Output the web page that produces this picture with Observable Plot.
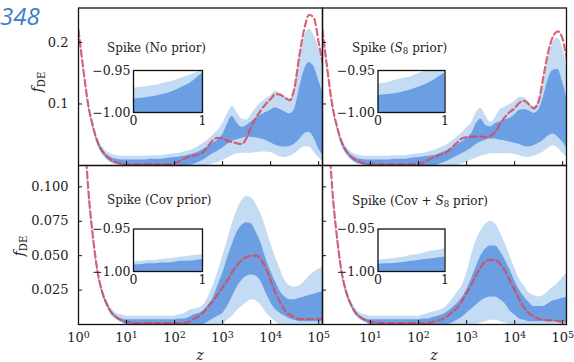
<!DOCTYPE html>
<html>
<head>
<meta charset="utf-8">
<script src="https://cdn.jsdelivr.net/npm/d3@7"></script>
<script src="https://cdn.jsdelivr.net/npm/@observablehq/plot@0.6"></script>
<style>
  html, body { margin: 0; padding: 0; background: #fff; }
  #fig { position: relative; width: 574px; height: 362px; overflow: hidden; background: #fff; font-family: "DejaVu Serif", serif; color: #222; }
  #fig svg { position: absolute; left: 0; top: 0; }
  .lbl { position: absolute; white-space: nowrap; line-height: 1; }
  .ttl { font-size: 12px; transform: translateY(-50%); }
  .sub { font-size: 0.72em; position: relative; top: 0.28em; }
  .ylab { font-size: 14px; transform: translate(-50%, -50%) rotate(-90deg); }
  .xlab { font-size: 14px; font-style: italic; transform: translate(-50%, -50%); }
</style>
</head>
<body>
<div id="fig"></div>
<script>
// ---------- data ----------
const logZ = [0.0,0.1,0.2,0.3,0.4,0.5,0.6,0.7,0.8,0.9,
  1.0,1.1,1.2,1.3,1.4,1.5,1.6,1.7,1.8,1.9,
  2.0,2.1,2.2,2.3,2.4,2.5,2.6,2.7,2.8,2.9,
  3.0,3.1,3.2,3.3,3.4,3.5,3.6,3.7,3.8,3.9,
  4.0,4.1,4.2,4.3,4.4,4.5,4.6,4.7,4.8,4.9,
  5.0,5.1];

const panelTitles = ["Spike (No prior)", "Spike (S8 prior)", "Spike (Cov prior)", "Spike (Cov + S8 prior)"];

// Spike (No prior)
const tlLightHi = [0.223,0.160,0.104,0.069,0.044,0.030,0.022,0.018,0.016,0.015,
  0.015,0.015,0.015,0.015,0.015,0.016,0.016,0.016,0.017,0.018,
  0.019,0.020,0.022,0.024,0.027,0.031,0.036,0.042,0.049,0.057,
  0.068,0.084,0.096,0.086,0.076,0.074,0.083,0.094,0.102,0.108,
  0.113,0.121,0.118,0.112,0.107,0.125,0.172,0.208,0.222,0.212,
  0.192,0.170];
const tlDarkHi = [0.221,0.158,0.102,0.066,0.041,0.026,0.017,0.012,0.010,0.009,
  0.009,0.009,0.009,0.009,0.009,0.010,0.010,0.010,0.011,0.012,
  0.013,0.014,0.015,0.017,0.019,0.022,0.026,0.031,0.036,0.041,
  0.050,0.067,0.080,0.069,0.062,0.065,0.071,0.077,0.082,0.086,
  0.090,0.094,0.091,0.087,0.084,0.092,0.125,0.155,0.167,0.161,
  0.138,0.115];
const tlDarkLo = [0.219,0.156,0.098,0.062,0.035,0.020,0.011,0.005,0.002,0.001,
  0,0,0,0,0,0,0,0,0,0,
  0,0,0,0,0.002,0.005,0.009,0.014,0.019,0.023,
  0.028,0.034,0.039,0.042,0.044,0.046,0.046,0.045,0.043,0.041,
  0.037,0.033,0.031,0.030,0.031,0.035,0.042,0.051,0.054,0.045,
  0.027,0.015];
const tlLightLo = [0.217,0.154,0.096,0.059,0.032,0.017,0.008,0.003,0.001,0,
  0,0,0,0,0,0,0,0,0,0,
  0,0,0,0,0,0,0,0.001,0.003,0.005,
  0.008,0.012,0.016,0.019,0.020,0.020,0.020,0.021,0.022,0.022,
  0.021,0.018,0.014,0.013,0.015,0.019,0.025,0.030,0.030,0.022,
  0.012,0.006];
const tlBest = [0.220,0.157,0.100,0.064,0.038,0.023,0.014,0.008,0.005,0.003,
  0.002,0.002,0.002,0.002,0.002,0.002,0.002,0.002,0.002,0.002,
  0.004,0.007,0.011,0.014,0.016,0.018,0.022,0.032,0.041,0.045,
  0.044,0.040,0.038,0.036,0.035,0.045,0.064,0.078,0.090,0.100,
  0.108,0.116,0.115,0.110,0.106,0.128,0.180,0.222,0.245,0.240,
  0.200,0.160];

// Spike (S8 prior)
const trLightHi = [0.223,0.160,0.104,0.069,0.044,0.030,0.022,0.018,0.016,0.015,
  0.015,0.015,0.015,0.015,0.015,0.016,0.016,0.016,0.017,0.018,
  0.019,0.020,0.022,0.024,0.027,0.030,0.034,0.040,0.046,0.053,
  0.061,0.069,0.086,0.093,0.080,0.070,0.078,0.091,0.095,0.099,
  0.104,0.111,0.110,0.103,0.096,0.105,0.132,0.172,0.200,0.207,
  0.190,0.155];
const trDarkHi = [0.221,0.158,0.102,0.066,0.041,0.026,0.017,0.012,0.010,0.009,
  0.009,0.009,0.009,0.009,0.009,0.010,0.010,0.010,0.011,0.012,
  0.013,0.014,0.015,0.016,0.018,0.021,0.024,0.028,0.033,0.038,
  0.044,0.051,0.068,0.075,0.065,0.063,0.068,0.071,0.074,0.077,
  0.082,0.090,0.091,0.089,0.085,0.090,0.111,0.140,0.155,0.156,
  0.135,0.105];
const trDarkLo = [0.219,0.156,0.098,0.062,0.035,0.020,0.011,0.005,0.002,0.001,
  0,0,0,0,0,0,0,0,0,0,
  0,0,0,0,0.001,0.004,0.007,0.011,0.015,0.019,
  0.023,0.028,0.034,0.038,0.041,0.043,0.043,0.041,0.040,0.038,
  0.036,0.034,0.031,0.030,0.032,0.036,0.041,0.048,0.051,0.046,
  0.038,0.025];
const trLightLo = [0.217,0.154,0.096,0.059,0.032,0.017,0.008,0.003,0.001,0,
  0,0,0,0,0,0,0,0,0,0,
  0,0,0,0,0,0,0,0,0,0.002,
  0.005,0.009,0.012,0.015,0.017,0.019,0.019,0.019,0.019,0.019,
  0.018,0.016,0.014,0.013,0.015,0.018,0.022,0.028,0.032,0.028,
  0.020,0.012];
const trBest = [0.220,0.157,0.100,0.064,0.038,0.023,0.014,0.008,0.005,0.003,
  0.002,0.002,0.002,0.002,0.002,0.002,0.002,0.002,0.002,0.002,
  0.002,0.005,0.009,0.013,0.016,0.019,0.023,0.030,0.037,0.044,
  0.046,0.047,0.047,0.047,0.046,0.048,0.055,0.068,0.079,0.087,
  0.093,0.102,0.105,0.099,0.093,0.105,0.145,0.185,0.210,0.218,
  0.205,0.165];

// Spike (Cov prior)
const blLightHi = [0.221,0.159,0.102,0.066,0.040,0.026,0.017,0.011,0.008,0.007,
  0.006,0.006,0.006,0.006,0.006,0.006,0.006,0.006,0.006,0.006,
  0.006,0.007,0.008,0.010,0.011,0.012,0.014,0.020,0.028,0.038,
  0.049,0.061,0.073,0.083,0.090,0.093,0.092,0.087,0.080,0.070,
  0.059,0.049,0.040,0.032,0.028,0.027,0.028,0.031,0.035,0.038,
  0.040,0.042];
const blDarkHi = [0.220,0.158,0.101,0.065,0.039,0.024,0.015,0.009,0.006,0.004,
  0.0035,0.0035,0.0035,0.0035,0.0035,0.0035,0.0035,0.0035,0.0035,0.0035,
  0.0035,0.004,0.004,0.005,0.007,0.008,0.010,0.014,0.019,0.028,
  0.037,0.048,0.058,0.067,0.072,0.074,0.073,0.067,0.059,0.048,
  0.039,0.031,0.024,0.020,0.018,0.018,0.019,0.020,0.021,0.022,
  0.023,0.024];
const blDarkLo = [0.219,0.156,0.099,0.063,0.037,0.022,0.013,0.007,0.004,0.002,
  0,0,0,0,0,0,0,0,0,0,
  0,0,0,0,0,0,0,0.002,0.004,0.006,
  0.008,0.013,0.020,0.027,0.032,0.035,0.036,0.035,0.031,0.023,
  0.016,0.011,0.008,0.006,0.004,0.003,0.002,0.002,0.002,0.002,
  0.002,0.002];
const blLightLo = [0.218,0.155,0.098,0.062,0.036,0.021,0.012,0.006,0.003,0.001,
  0,0,0,0,0,0,0,0,0,0,
  0,0,0,0,0,0,0,0,0,0,
  0,0.003,0.006,0.010,0.013,0.016,0.018,0.017,0.014,0.009,
  0.005,0.002,0,0,0,0,0,0,0,0,
  0,0];
const blBest = [0.220,0.157,0.100,0.064,0.038,0.023,0.014,0.008,0.005,0.003,
  0.002,0.0015,0.001,0.001,0.001,0.001,0.001,0.001,0.001,0.001,
  0.001,0.001,0.001,0.002,0.004,0.006,0.009,0.013,0.017,0.022,
  0.027,0.032,0.038,0.043,0.047,0.049,0.050,0.050,0.047,0.041,
  0.032,0.023,0.016,0.010,0.007,0.005,0.004,0.004,0.004,0.004,
  0.004,0.004];

// Spike (Cov + S8 prior)
const brLightHi = [0.221,0.159,0.102,0.066,0.040,0.026,0.017,0.011,0.008,0.007,
  0.006,0.006,0.006,0.006,0.006,0.006,0.006,0.006,0.006,0.006,
  0.006,0.007,0.008,0.009,0.010,0.011,0.014,0.018,0.023,0.028,
  0.037,0.050,0.061,0.068,0.073,0.075,0.073,0.067,0.059,0.050,
  0.041,0.033,0.028,0.023,0.021,0.020,0.021,0.024,0.027,0.030,
  0.034,0.038];
const brDarkHi = [0.220,0.158,0.101,0.065,0.039,0.024,0.015,0.009,0.006,0.004,
  0.0035,0.0035,0.0035,0.0035,0.0035,0.0035,0.0035,0.0035,0.0035,0.0035,
  0.0035,0.004,0.004,0.005,0.006,0.007,0.009,0.012,0.015,0.019,
  0.025,0.033,0.042,0.050,0.055,0.057,0.057,0.053,0.047,0.040,
  0.032,0.025,0.020,0.016,0.013,0.013,0.013,0.015,0.017,0.018,
  0.019,0.020];
const brDarkLo = [0.219,0.156,0.099,0.063,0.037,0.022,0.013,0.007,0.004,0.002,
  0,0,0,0,0,0,0,0,0,0,
  0,0,0,0,0,0,0,0.001,0.003,0.005,
  0.008,0.011,0.014,0.017,0.019,0.020,0.020,0.018,0.015,0.010,
  0.007,0.004,0.003,0.002,0.002,0.002,0.002,0.002,0.002,0.002,
  0.002,0.002];
const brLightLo = [0.218,0.155,0.098,0.062,0.036,0.021,0.012,0.006,0.003,0.001,
  0,0,0,0,0,0,0,0,0,0,
  0,0,0,0,0,0,0,0,0,0,
  0,0,0,0.001,0.002,0.003,0.003,0.002,0.001,0,
  0,0,0,0,0,0,0,0,0,0,
  0,0];
const brBest = [0.220,0.157,0.100,0.064,0.038,0.023,0.014,0.008,0.005,0.003,
  0.002,0.0015,0.001,0.001,0.001,0.001,0.001,0.001,0.001,0.001,
  0.001,0.001,0.001,0.002,0.003,0.004,0.006,0.009,0.012,0.017,
  0.023,0.029,0.036,0.042,0.046,0.047,0.047,0.044,0.039,0.032,
  0.025,0.018,0.012,0.008,0.006,0.004,0.0035,0.003,0.003,0.0025,
  0.002,0.002];

// insets (w over 0..1)
const insetX = [0,0.1,0.2,0.3,0.4,0.5,0.6,0.7,0.8,0.9,1.0];
const tlInsetLight = [-0.971,-0.970,-0.969,-0.968,-0.966,-0.964,-0.962,-0.959,-0.956,-0.953,-0.950];
const tlInsetDark  = [-0.984,-0.983,-0.982,-0.981,-0.979,-0.977,-0.974,-0.970,-0.966,-0.960,-0.953];
const trInsetLight = [-0.966,-0.965,-0.963,-0.961,-0.959,-0.957,-0.954,-0.951,-0.948,-0.945,-0.942];
const trInsetDark  = [-0.980,-0.979,-0.978,-0.977,-0.975,-0.973,-0.970,-0.967,-0.963,-0.958,-0.953];
const blInsetLight = [-0.988,-0.988,-0.987,-0.987,-0.986,-0.985,-0.984,-0.983,-0.982,-0.981,-0.980];
const blInsetDark  = [-0.992,-0.992,-0.991,-0.991,-0.990,-0.990,-0.989,-0.988,-0.988,-0.987,-0.986];
const brInsetLight = [-0.987,-0.986,-0.985,-0.984,-0.983,-0.981,-0.980,-0.978,-0.976,-0.975,-0.973];
const brInsetDark  = [-0.992,-0.991,-0.991,-0.990,-0.989,-0.988,-0.987,-0.986,-0.985,-0.984,-0.983];

// ticks
const xTicks = [1, 10, 100, 1000, 10000, 100000];
const xTickBase = ["10", "10", "10", "10", "10", "10"];
const xTickExp = ["0", "1", "2", "3", "4", "5"];
const yTicksTop = [0.1, 0.2];
const yTickLabelsTop = ["0.1", "0.2"];
const yTicksBottom = [0.025, 0.05, 0.075, 0.1];
const yTickLabelsBottom = ["0.025", "0.050", "0.075", "0.100"];
const insetYTicks = [-1.0, -0.95];
const insetYTickLabels = ["\u22121.00", "\u22120.95"];
const insetXTicks = [0, 1];
const insetXTickLabels = ["0", "1"];

// ---------- styling / layout ----------
const LIGHT = "#c4dbf4";
const DARK = "#6b9ee3";
const RED = "#d44a60";
const W = 574, H = 362;
const xDomain = [1, 1.2e5];
const yDomainTop = [0, 0.256];
const yDomainBottom = [0, 0.1155];
const boxes = {
  tl: {x0: 78, x1: 322, y0: 7.5, y1: 165},
  tr: {x0: 322, x1: 566, y0: 7.5, y1: 165},
  bl: {x0: 78, x1: 322, y0: 165, y1: 324},
  br: {x0: 322, x1: 566, y0: 165, y1: 324}
};
const insetBoxes = {
  tl: {x0: 133, x1: 202, y0: 70, y1: 112},
  tr: {x0: 377.5, x1: 444.5, y0: 70, y1: 112},
  bl: {x0: 133, x1: 202, y0: 228.5, y1: 271},
  br: {x0: 377.5, x1: 444.5, y0: 228.5, y1: 271}
};

const fig = document.getElementById("fig");
const SVGNS = "http://www.w3.org/2000/svg";
const lab = (arr, labels) => { const m = new Map(arr.map((t, i) => [t, labels[i]])); return d => m.get(d); };
const expOf = lab(xTicks, xTickExp);
const svgStyle = "background: transparent; overflow: visible; position: absolute; left: 0; top: 0; max-width: none;";

function makeRows(lightLo, darkLo, darkHi, lightHi, best) {
  return logZ.map((l, i) => ({z: 10 ** l, lo2: lightLo[i], lo1: darkLo[i], hi1: darkHi[i], hi2: lightHi[i], best: best[i]}));
}

function panel(rows, box, yDomain, yTicks, yLabels, showYLabels, xLabelTicks) {
  const curve = "monotone-x";
  const marks = [
    Plot.areaY(rows, {x: "z", y1: "lo2", y2: "hi2", fill: LIGHT, curve, clip: true}),
    Plot.areaY(rows, {x: "z", y1: "lo1", y2: "hi1", fill: DARK, curve, clip: true}),
    Plot.line(rows, {x: "z", y: "best", stroke: RED, strokeOpacity: 0.85, strokeWidth: 2.2, strokeDasharray: "6.5,3.5", curve, clip: true}),
    Plot.frame({stroke: "#111", strokeWidth: 1.3}),
    Plot.axisX(xTicks, {anchor: "bottom", tickSize: 4, dy: -4, fill: "none", stroke: "#111", label: null}),
    Plot.axisY(yTicks, {anchor: "left", tickSize: 4, dx: 4, fill: "none", stroke: "#111", label: null})
  ];
  if (xLabelTicks) marks.push(Plot.axisX(xLabelTicks, {anchor: "bottom", tickSize: 0, tickPadding: 8, tickFormat: lab(xTicks, xTickBase), fontSize: 13, fill: "#222", label: null}));
  if (showYLabels) marks.push(Plot.axisY(yTicks, {anchor: "left", tickSize: 0, tickPadding: 10, tickFormat: lab(yTicks, yLabels), fontSize: 13, fill: "#222", label: null}));
  const svg = Plot.plot({
    width: W, height: H,
    marginLeft: box.x0, marginRight: W - box.x1, marginTop: box.y0, marginBottom: H - box.y1,
    style: svgStyle + " font-family: 'DejaVu Serif', serif;",
    x: {type: "log", domain: xDomain},
    y: {domain: yDomain},
    marks
  });
  // add exponents as superscript tspans to the x tick labels
  if (xLabelTicks) {
    svg.querySelectorAll('g[aria-label="x-axis tick label"] text').forEach((t, i) => {
      const ts = document.createElementNS(SVGNS, "tspan");
      ts.setAttribute("dy", "-0.42em");
      ts.setAttribute("font-size", "9.5");
      ts.textContent = expOf(xLabelTicks[i]);
      t.appendChild(ts);
    });
  }
  return svg;
}

function inset(box, light, dark) {
  const rows = insetX.map((x, i) => ({x, base: insetYTicks[0], light: light[i], dark: dark[i]}));
  return Plot.plot({
    width: W, height: H,
    marginLeft: box.x0, marginRight: W - box.x1, marginTop: box.y0, marginBottom: H - box.y1,
    style: svgStyle + " font-family: 'DejaVu Serif', serif;",
    x: {domain: [0, 1]},
    y: {domain: [insetYTicks[0], insetYTicks[1]]},
    marks: [
      Plot.frame({fill: "white"}),
      Plot.areaY(rows, {x: "x", y1: "base", y2: "light", fill: LIGHT, curve: "monotone-x", clip: true}),
      Plot.areaY(rows, {x: "x", y1: "base", y2: "dark", fill: DARK, curve: "monotone-x", clip: true}),
      Plot.frame({stroke: "#111", strokeWidth: 1.3}),
      Plot.axisY(insetYTicks, {anchor: "left", tickSize: 0, tickPadding: 3, tickFormat: lab(insetYTicks, insetYTickLabels), fontSize: 12.5, fill: "#222", label: null}),
      Plot.axisX(insetXTicks, {anchor: "bottom", tickSize: 0, tickPadding: 4, tickFormat: lab(insetXTicks, insetXTickLabels), fontSize: 12.5, fill: "#222", label: null})
    ]
  });
}

fig.appendChild(panel(makeRows(tlLightLo, tlDarkLo, tlDarkHi, tlLightHi, tlBest), boxes.tl, yDomainTop, yTicksTop, yTickLabelsTop, true, null));
fig.appendChild(panel(makeRows(trLightLo, trDarkLo, trDarkHi, trLightHi, trBest), boxes.tr, yDomainTop, yTicksTop, yTickLabelsTop, false, null));
fig.appendChild(panel(makeRows(blLightLo, blDarkLo, blDarkHi, blLightHi, blBest), boxes.bl, yDomainBottom, yTicksBottom, yTickLabelsBottom, true, xTicks));
fig.appendChild(panel(makeRows(brLightLo, brDarkLo, brDarkHi, brLightHi, brBest), boxes.br, yDomainBottom, yTicksBottom, yTickLabelsBottom, false, xTicks.slice(1)));
fig.appendChild(inset(insetBoxes.tl, tlInsetLight, tlInsetDark));
fig.appendChild(inset(insetBoxes.tr, trInsetLight, trInsetDark));
fig.appendChild(inset(insetBoxes.bl, blInsetLight, blInsetDark));
fig.appendChild(inset(insetBoxes.br, brInsetLight, brInsetDark));

// ---------- text labels ----------
function addLabel(html, cls, x, y, extra) {
  const d = document.createElement("div");
  d.className = "lbl " + cls;
  d.style.left = x + "px";
  d.style.top = y + "px";
  if (extra) d.style.cssText += extra;
  d.innerHTML = html;
  fig.appendChild(d);
}
const titleHtml = t => t.replace("S8", '<i>S</i><span class="sub">8</span>');
addLabel(titleHtml(panelTitles[0]), "ttl", 107, 48);
addLabel(titleHtml(panelTitles[1]), "ttl", 352, 48);
addLabel(titleHtml(panelTitles[2]), "ttl", 107, 200);
addLabel(titleHtml(panelTitles[3]), "ttl", 352, 200.5);
const fde = '<i>f</i><span class="sub">DE</span>';
addLabel(fde, "ylab", 37, 82);
addLabel(fde, "ylab", 19, 246);
addLabel("z", "xlab", 200, 355);
addLabel("z", "xlab", 434, 355);
addLabel("348", "", 0, 4, "font-family: 'Open Sans', sans-serif; font-style: italic; font-size: 24px; color: #3d7cc8;");
</script>
</body>
</html>
